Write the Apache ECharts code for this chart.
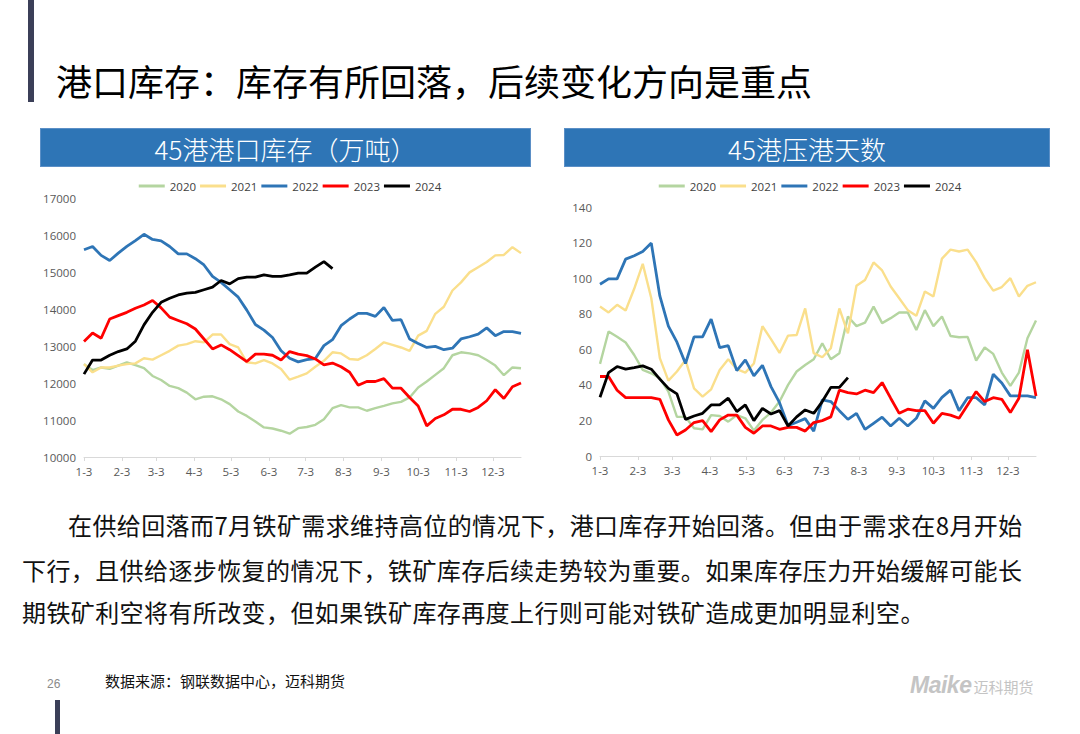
<!DOCTYPE html>
<html><head><meta charset="utf-8">
<script src="https://cdn.jsdelivr.net/npm/echarts@6/dist/echarts.min.js"></script>
<style>
html,body{margin:0;padding:0;background:#fff;width:1080px;height:734px;overflow:hidden;font-family:"Noto Sans CJK SC",sans-serif;}
.abs{position:absolute;}
#bar1{left:28px;top:0;width:6px;height:102px;background:#3b3f58;}
#bar2{left:55px;top:700px;width:5px;height:34px;background:#3b3f58;}
#title{left:56px;top:56px;font-size:36px;color:#000;line-height:48px;white-space:nowrap;}
.hdr{top:128px;height:39px;background:#2e75b6;color:#fff;font-size:26px;line-height:39px;text-align:center;border:1px solid #5b8fc6;box-sizing:border-box;font-weight:300;}
#h1{left:40px;width:491px;}
#h2{left:564px;width:486px;}
.para{font-size:24px;color:#111;white-space:nowrap;line-height:30px;letter-spacing:0.4px;}
#src{left:105px;top:670px;font-size:15px;color:#111;white-space:nowrap;}
#pg{left:47px;top:677px;font-size:12px;color:#8a8a8a;font-family:"Liberation Sans Narrow","Liberation Sans",sans-serif;}
#logo{left:910px;top:672px;color:#c4c4c4;white-space:nowrap;}
#logo b{font-family:"Liberation Sans",sans-serif;font-style:italic;font-size:23px;font-weight:900;letter-spacing:-0.5px;}
#logo span{font-size:15px;margin-left:2px;}
#c1{left:40px;top:170px;width:500px;height:310px;}
#c2{left:560px;top:170px;width:500px;height:310px;}
</style></head>
<body>
<div class="abs" id="bar1"></div>
<div class="abs" id="title">港口库存：库存有所回落，后续变化方向是重点</div>
<div class="abs hdr" id="h1">45港港口库存（万吨）</div>
<div class="abs hdr" id="h2">45港压港天数</div>
<div class="abs" id="c1"></div>
<div class="abs" id="c2"></div>
<div class="abs para" style="left:68px;top:510px;">在供给回落而7月铁矿需求维持高位的情况下，港口库存开始回落。但由于需求在8月开始</div>
<div class="abs para" style="left:22px;top:555px;">下行，且供给逐步恢复的情况下，铁矿库存后续走势较为重要。如果库存压力开始缓解可能长</div>
<div class="abs para" style="left:22px;top:597px;">期铁矿利空将有所改变，但如果铁矿库存再度上行则可能对铁矿造成更加明显利空。</div>
<div class="abs" id="pg">26</div>
<div class="abs" id="src">数据来源：钢联数据中心，迈科期货</div>
<div class="abs" id="logo"><b>Maike</b><span>迈科期货</span></div>
<div class="abs" id="bar2"></div>
<script>
// x-axis tick labels (month-3 dates) and their day offsets from Jan 3
const monthLabels = ['1-3','2-3','3-3','4-3','5-3','6-3','7-3','8-3','9-3','10-3','11-3','12-3'];
const monthDays = [0,31,59,90,120,151,181,212,243,273,304,334];
const years = ['2020','2021','2022','2023','2024'];
const colors = ['#b4d5a0','#fadf8c','#2e75b6','#ff0000','#000000'];

// 45港港口库存（万吨）, weekly
const inv2020 = [12510,12350,12420,12380,12470,12560,12480,12400,12190,12080,11920,11860,11740,11560,11630,11640,11560,11430,11230,11110,10960,10800,10770,10710,10630,10780,10810,10870,11020,11320,11400,11340,11340,11250,11320,11380,11450,11490,11610,11880,12040,12220,12400,12750,12830,12800,12750,12620,12470,12210,12420,12400];
const inv2021 = [12510,12290,12420,12420,12470,12510,12530,12670,12630,12750,12870,13010,13050,13130,13100,13310,13310,13050,12960,12560,12530,12620,12530,12380,12090,12170,12260,12440,12600,12830,12800,12650,12630,12750,12920,13100,13030,12960,12870,13280,13410,13870,14060,14500,14720,14990,15130,15270,15450,15460,15670,15510];
const inv2022 = [15600,15690,15450,15310,15510,15690,15850,16020,15880,15840,15690,15490,15490,15360,15190,14880,14720,14520,14320,13970,13580,13430,13230,12870,12670,12570,12630,12660,13010,13170,13550,13730,13880,13880,13800,14040,13690,13710,13190,13070,12960,12990,12900,12940,13190,13250,13320,13490,13280,13390,13390,13340];
const inv2023 = [13120,13350,13210,13730,13820,13910,14020,14110,14230,14030,13780,13690,13600,13460,13190,12920,13030,12900,12740,12580,12780,12780,12750,12620,12850,12780,12740,12650,12490,12540,12440,12290,11940,12040,12040,12120,11860,11860,11610,11380,10840,11040,11140,11290,11290,11230,11340,11520,11820,11580,11900,12000];
const inv2024 = [12240,12620,12620,12750,12850,12920,13130,13570,13910,14180,14290,14380,14430,14450,14520,14590,14770,14680,14820,14860,14860,14920,14880,14880,14920,14970,14970,15130,15280,15090];

// 45港压港天数, weekly
const day2020 = [51.8,70,67,63.8,56.8,48.4,46.5,43.7,36.2,22,22,15.6,15,23,22.5,19.3,23,21.2,14.3,20.3,24.4,30.6,40,47.5,51.2,54.4,63.4,54.4,57.8,78.4,73,75,84,74.7,77.5,80.7,80.7,70.9,82,73,78.4,67.5,66.8,67,53.7,61,57.4,46.9,39.4,46.9,66.2,76.2];
const day2021 = [84,80.7,85,81.8,94,108,88.7,55,42.4,47.5,54,38,33.4,37.5,48.4,54.4,48.8,46.9,52,73,65.7,58,67.7,68,83,57.8,55.5,60.6,83,69,95.7,99,108.8,104.3,95.3,88.7,82,78.8,92.5,89.7,111,116,115,116,109,100,93,95,100,89.7,95.7,97.7];
const day2022 = [96.6,99.6,99.6,110.7,112.6,115,119.7,90,73,64,52,67,67,77,61,62,48,54,45,51,39,30,17,19,21,14,31.5,30.6,25.5,20.6,24,15,18.4,21.8,16.9,21.2,16.9,21.2,31,26.8,33,37,25.5,32.8,32.8,28.7,46,41,33.8,33.8,33.8,32.8];
const day2023 = [44.7,44.7,37,32.8,32.8,32.8,32.8,31.9,20.3,11.8,14.6,18.8,19.9,13.7,20.3,23,23,16.1,12.8,16.9,16.9,15,16.1,16.1,14,18.8,19.9,22,37,35.6,34.9,37,35.6,41.3,32.5,24,26.3,25.5,25.5,18.4,24,23,21.2,28.7,36.2,30.6,32.8,31.9,24.4,32.5,59.7,33.8];
const day2024 = [33,46.9,50.3,48.8,49.7,50.7,48.8,43.2,38,34.9,20.6,22.5,24,28.7,28.7,32.5,25,28.7,19.9,26.8,23.6,25.5,16.9,22,25.9,24,30.6,38.6,38.6,44.1];

const font = '"Open Sans","Noto Sans",sans-serif';
function weekly(arr){ return arr.map((v,i)=>[i*7, v]); }
function makeOption(seriesArr, yMin, yMax, yInt, grid){
  return {
    animation:false,
    color: colors,
    textStyle:{fontFamily:font},
    legend:{top:5, left:'center', icon:'rect', itemWidth:26, itemHeight:3, itemGap:4,
      textStyle:{fontSize:11.5, color:'#404040', fontFamily:font}, data: years},
    grid: grid,
    xAxis:{type:'value', min:0, max:357,
      axisLine:{show:true, lineStyle:{color:'#d9d9d9', width:1}},
      axisTick:{show:true, customValues: monthDays, length:4, lineStyle:{color:'#d9d9d9'}},
      splitLine:{show:false},
      axisLabel:{customValues: monthDays, fontSize:11.5, color:'#595959', margin:8,
        formatter: v => monthLabels[monthDays.indexOf(v)] || ''}},
    yAxis:{type:'value', min:yMin, max:yMax, interval:yInt,
      axisLine:{show:false}, axisTick:{show:false}, splitLine:{show:false},
      axisLabel:{fontSize:11.5, color:'#595959', margin:8, formatter: v => String(v)}},
    series: seriesArr.map((d,k)=>({name:years[k], type:'line', data:weekly(d), symbol:'none',
      lineStyle:{width:k>=2?2.8:2.4, color:colors[k]}, z:k}))
  };
}
const c1 = echarts.init(document.getElementById('c1'), null, {renderer:'svg'});
c1.setOption(makeOption([inv2020,inv2021,inv2022,inv2023,inv2024], 10000, 17000, 1000,
  {left:44, right:19, top:28, bottom:23}));
const c2 = echarts.init(document.getElementById('c2'), null, {renderer:'svg'});
c2.setOption(makeOption([day2020,day2021,day2022,day2023,day2024], 0, 140, 20,
  {left:40, right:24, top:37, bottom:24}));
</script>
</body></html>
